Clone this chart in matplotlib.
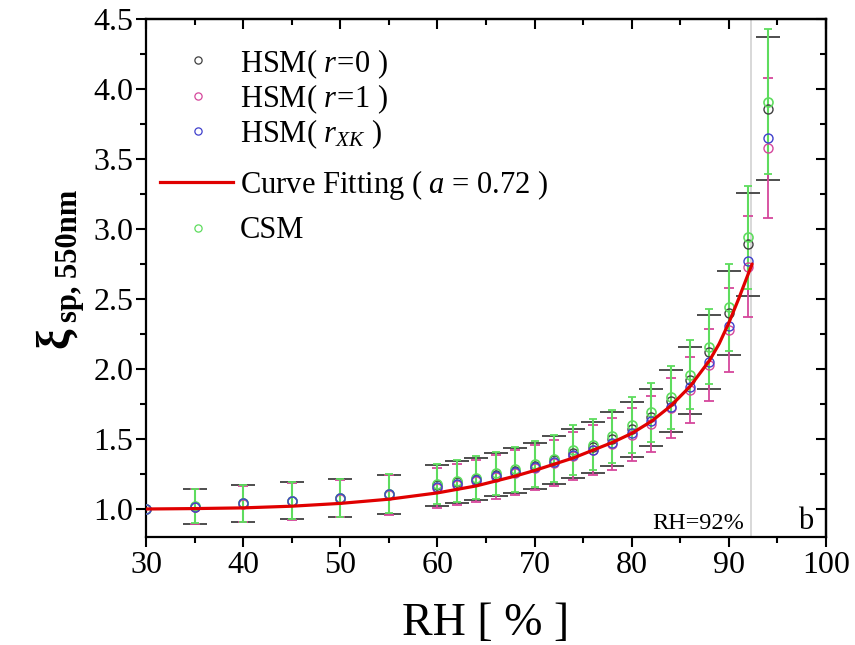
import matplotlib
matplotlib.use("Agg")
import matplotlib.pyplot as plt
from matplotlib.ticker import MultipleLocator, FormatStrFormatter
from matplotlib.lines import Line2D

plt.rcParams['font.family'] = ['Liberation Serif', 'DejaVu Serif']
plt.rcParams['mathtext.fontset'] = 'custom'
plt.rcParams['mathtext.rm'] = 'Liberation Serif'
plt.rcParams['mathtext.it'] = 'Liberation Serif:italic'
plt.rcParams['mathtext.bf'] = 'Liberation Serif:bold'

# ---- data ----
rh = [30, 35, 40, 45, 50, 55, 60, 62, 64, 66, 68, 70, 72, 74, 76, 78, 80, 82, 84, 86, 88, 90, 92, 94]
hsm_r0 = [1.00, 1.015, 1.04, 1.06, 1.08, 1.105, 1.17, 1.19, 1.215, 1.245, 1.275, 1.31, 1.35, 1.40, 1.44,
          1.50, 1.57, 1.655, 1.77, 1.92, 2.12, 2.40, 2.89, 3.86]
hsm_r1 = [1.00, 1.015, 1.035, 1.055, 1.075, 1.10, 1.15, 1.175, 1.20, 1.23, 1.26, 1.295, 1.33, 1.38, 1.42,
          1.465, 1.53, 1.61, 1.72, 1.85, 2.03, 2.28, 2.73, 3.58]
hsm_rxk = [1.00, 1.015, 1.04, 1.055, 1.08, 1.105, 1.155, 1.18, 1.205, 1.235, 1.265, 1.30, 1.335, 1.385, 1.425,
           1.475, 1.54, 1.63, 1.73, 1.87, 2.05, 2.31, 2.77, 3.65]
csm = [1.00, 1.02, 1.04, 1.06, 1.08, 1.11, 1.18, 1.20, 1.225, 1.255, 1.285, 1.32, 1.36, 1.42, 1.46,
       1.52, 1.60, 1.69, 1.80, 1.96, 2.16, 2.44, 2.94, 3.91]
err_r0 = [0, 0.125, 0.13, 0.13, 0.135, 0.14, 0.145, 0.15, 0.15, 0.155, 0.16, 0.165, 0.17, 0.175, 0.18,
          0.19, 0.195, 0.205, 0.22, 0.24, 0.265, 0.30, 0.37, 0.51]
err_r1 = [0, 0.125, 0.13, 0.13, 0.135, 0.14, 0.145, 0.145, 0.15, 0.155, 0.16, 0.16, 0.165, 0.17, 0.18,
          0.185, 0.19, 0.20, 0.215, 0.235, 0.255, 0.30, 0.36, 0.50]
err_csm = [0, 0.12, 0.13, 0.13, 0.135, 0.14, 0.145, 0.15, 0.155, 0.155, 0.16, 0.165, 0.17, 0.18, 0.18,
           0.19, 0.20, 0.21, 0.225, 0.245, 0.27, 0.31, 0.37, 0.52]

fit_rh = [30, 35, 40, 45, 50, 55, 60, 64, 68, 70, 72, 74, 76, 78, 80, 82, 84, 86, 88, 89, 90, 91, 92, 92.4]
fit_val = [1.0, 1.003, 1.008, 1.02, 1.04, 1.07, 1.115, 1.165, 1.235, 1.275, 1.32, 1.365, 1.42, 1.475,
           1.54, 1.625, 1.735, 1.875, 2.06, 2.18, 2.33, 2.50, 2.68, 2.75]

labels = [r"HSM( $\mathit{r\!=\!0}$ )", r"HSM( $\mathit{r\!=\!1}$ )", r"HSM( $\mathit{r}_{\mathit{XK}}$ )",
          r"Curve Fitting ( $\mathit{a}$ = 0.72 )", "CSM"]

c_black = '#404040'
c_pink = '#d5479c'
c_blue = '#4040cc'
c_green = '#5edc5e'
c_red = '#e00000'

W, H = 855, 645
fig = plt.figure(figsize=(W / 100, H / 100), dpi=100)
ax = fig.add_axes([146 / W, 1 - 537 / H, (826 - 146) / W, (537 - 19) / H])

ax.axvline(92.3, color='#d8d8d8', lw=1.4, zorder=0)

ax.errorbar(rh, hsm_r0, yerr=err_r0, fmt='none', ecolor=c_black, elinewidth=1.2, capsize=8.3, capthick=1.3, zorder=2)
ax.errorbar(rh, hsm_r1, yerr=err_r1, fmt='none', ecolor=c_pink, elinewidth=1.3, capsize=3.4, capthick=1.3, zorder=3)
ax.errorbar(rh, csm, yerr=err_csm, fmt='none', ecolor=c_green, elinewidth=1.5, capsize=2.8, capthick=1.3, zorder=4)

ms = 6.5
ax.plot(rh, hsm_r0, 'o', mfc='none', mec=c_black, ms=ms, mew=1.0, zorder=5)
ax.plot(rh, hsm_r1, 'o', mfc='none', mec=c_pink, ms=ms, mew=1.0, zorder=5)
ax.plot(rh, csm, 'o', mfc='none', mec=c_green, ms=ms, mew=1.2, zorder=6)
ax.plot(rh, hsm_rxk, 'o', mfc='none', mec=c_blue, ms=ms, mew=1.0, zorder=7)
ax.plot(fit_rh, fit_val, '-', color=c_red, lw=2.3, zorder=8, solid_capstyle='round', solid_joinstyle='round')

ax.set_xlim(30, 100)
ax.set_ylim(0.8, 4.5)
ax.xaxis.set_major_locator(MultipleLocator(10))
ax.xaxis.set_minor_locator(MultipleLocator(5))
ax.yaxis.set_major_locator(MultipleLocator(0.5))
ax.yaxis.set_minor_locator(MultipleLocator(0.25))
ax.yaxis.set_major_formatter(FormatStrFormatter('%.1f'))

for sp in ax.spines.values():
    sp.set_linewidth(1.6)
ax.tick_params(which='both', direction='out', width=1.5, labelsize=23, top=False, right=False)
ax.tick_params(which='major', length=7)
ax.tick_params(which='minor', length=4)
ax.tick_params(axis='x', pad=3)
ax.tick_params(axis='y', pad=2)

# inward ticks on top and right
ax2 = ax.secondary_xaxis('top')
ax2.xaxis.set_major_locator(MultipleLocator(10))
ax2.xaxis.set_minor_locator(MultipleLocator(5))
ax2.tick_params(which='both', direction='in', width=1.5, labeltop=False)
ax2.tick_params(which='major', length=7)
ax2.tick_params(which='minor', length=4)
ax2.spines['top'].set_linewidth(1.6)
ax3 = ax.secondary_yaxis('right')
ax3.yaxis.set_major_locator(MultipleLocator(0.5))
ax3.yaxis.set_minor_locator(MultipleLocator(0.25))
ax3.tick_params(which='both', direction='in', width=1.5, labelright=False)
ax3.tick_params(which='major', length=7)
ax3.tick_params(which='minor', length=4)
ax3.spines['right'].set_linewidth(1.6)

ax.set_xlabel("RH [ % ]", fontsize=33, labelpad=16)

# y label: xi with bold subscript
fig.text(57 / W, 1 - 338 / H, "\u03be", fontsize=33, fontweight='bold', rotation=90,
         ha='center', va='center')
fig.text(70 / W, 1 - 322 / H, "sp, 550nm", fontsize=22, fontweight='bold', rotation=90,
         ha='center', va='bottom')

ax.text(91.6, 0.86, "RH=92%", fontsize=17.5, ha='right', va='baseline')
ax.text(97.9, 0.86, "b", fontsize=22, ha='center', va='baseline')

# legend (drawn manually for exact row placement)
leg_marker_x = 198
leg_text_x = 240
row_centers = [60, 96, 131, 182, 228]
row_baselines = [72, 107, 142, 193, 238]
marker_colors = [c_black, c_pink, c_blue, None, c_green]
for lab, yc, yb, mc in zip(labels, row_centers, row_baselines, marker_colors):
    fy = 1 - yc / H
    if mc is None:
        fig.add_artist(Line2D([160 / W, 233 / W], [fy, fy], color=c_red, lw=2.3,
                              transform=fig.transFigure))
    else:
        fig.add_artist(Line2D([leg_marker_x / W], [fy], ls='none', marker='o', mfc='none', mec=mc,
                              ms=5.2, mew=0.9, transform=fig.transFigure))
    fig.text(leg_text_x / W, 1 - yb / H, lab, fontsize=22, ha='left', va='baseline')

fig.savefig("out.png", dpi=100)
